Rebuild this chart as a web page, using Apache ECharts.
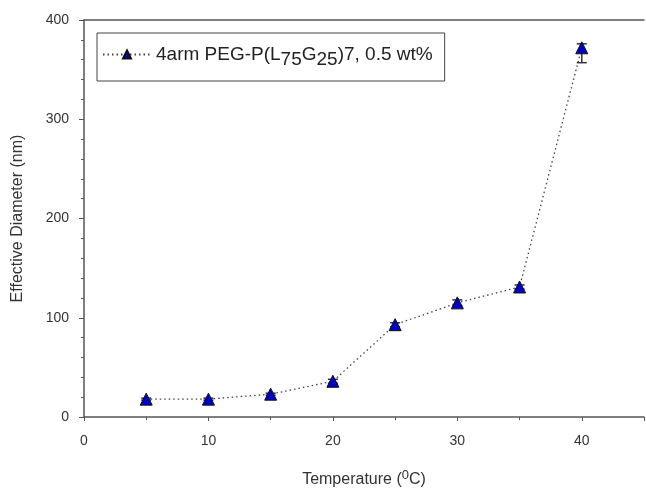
<!DOCTYPE html>
<html>
<head>
<meta charset="utf-8">
<title>Effective Diameter</title>
<script src="https://cdn.jsdelivr.net/npm/echarts@6/dist/echarts.min.js"></script>
<style>
  html, body { margin: 0; padding: 0; background: #fff; }
  #main { width: 646px; height: 488px; }
</style>
</head>
<body>
<div id="main"></div>
<script type="text/javascript">
    // temperature (C) and effective diameter (nm)
    var temps = [5, 10, 15, 20, 25, 30, 35, 40];
    var diameters = [18, 18, 23, 36, 93, 115, 131, 372];
    // error bar extents below / above the point (top ones hidden under the marker)
    var errDown = [1, 1, 1, 2, 2, 3, 2, 15];
    var errUp = [1, 1, 1, 2, 2, 3, 2, 4];
    var seriesName = '4arm PEG-P(L75G25)7, 0.5 wt%';

    var pointData = [], errData = [];
    for (var i = 0; i < temps.length; i++) {
        pointData.push([temps[i], diameters[i]]);
        errData.push([temps[i], diameters[i] - errDown[i], diameters[i] + errUp[i]]);
    }

    var font = 'Liberation Sans, Arial, sans-serif';
    var myChart = echarts.init(document.getElementById('main'));

    myChart.setOption({
        animation: false,
        textStyle: { fontFamily: font },
        grid: { left: 84, right: 2, top: 20, bottom: 71, containLabel: false, outerBoundsMode: 'none' },
        legend: {
            left: 97,
            top: 33,
            orient: 'horizontal',
            data: [seriesName],
            itemWidth: 48,
            itemHeight: 10,
            itemGap: 0,
            padding: [12, 12, 12, 5],
            borderColor: '#444',
            borderWidth: 1,
            formatter: function () {
                return '4arm PEG-P(L{sub|75}G{sub|25})7, 0.5 wt%';
            },
            textStyle: {
                fontSize: 19,
                color: '#222',
                fontFamily: font,
                rich: {
                    sub: { fontSize: 19, color: '#222', fontFamily: font, padding: [10, 0, 0, 0] }
                }
            }
        },
        xAxis: [{
            type: 'value',
            min: 0,
            max: 45,
            interval: 10,
            name: 'Temperature ({sup|0}C)',
            nameLocation: 'middle',
            nameGap: 52,
            nameTextStyle: {
                fontSize: 16,
                color: '#333',
                fontFamily: font,
                rich: { sup: { fontSize: 13, color: '#333', fontFamily: font, padding: [0, 0, 9, 0] } }
            },
            splitLine: { show: false },
            axisLine: { lineStyle: { color: '#555', width: 1.5 } },
            axisTick: { length: 4, lineStyle: { color: '#555' } },
            minorTick: { show: true, splitNumber: 2, length: 3, lineStyle: { color: '#555' } },
            axisLabel: { fontSize: 14, color: '#333', margin: 17, showMaxLabel: false }
        }, {
            type: 'value',
            position: 'top',
            min: 0,
            max: 45,
            axisLine: { show: true, lineStyle: { color: '#555', width: 1.5 } },
            axisTick: { show: false },
            axisLabel: { show: false },
            splitLine: { show: false }
        }],
        yAxis: {
            type: 'value',
            min: 0,
            max: 400,
            interval: 100,
            name: 'Effective Diameter (nm)',
            nameLocation: 'middle',
            nameGap: 58,
            nameTextStyle: { fontSize: 16, color: '#333', fontFamily: font },
            splitLine: { show: false },
            axisLine: { show: true, lineStyle: { color: '#555', width: 1.5 } },
            axisTick: { show: true, length: 5, lineStyle: { color: '#555' } },
            minorTick: { show: true, splitNumber: 5, length: 3, lineStyle: { color: '#555' } },
            axisLabel: { fontSize: 14, color: '#333', margin: 15 }
        },
        series: [{
            name: seriesName,
            type: 'line',
            data: pointData,
            symbol: 'triangle',
            symbolSize: 12,
            itemStyle: { color: '#0000c8', borderColor: '#111', borderWidth: 1 },
            lineStyle: { color: '#444', width: 1.3, type: [1.5, 3] },
            z: 3
        }, {
            type: 'custom',
            data: errData,
            z: 2,
            renderItem: function (params, api) {
                var x = api.value(0);
                var lo = api.coord([x, api.value(1)]);
                var hi = api.coord([x, api.value(2)]);
                var w = 5;
                var st = { stroke: '#333', lineWidth: 1.5 };
                return {
                    type: 'group',
                    children: [
                        { type: 'line', shape: { x1: lo[0], y1: lo[1], x2: hi[0], y2: hi[1] }, style: st },
                        { type: 'line', shape: { x1: lo[0] - w, y1: lo[1], x2: lo[0] + w, y2: lo[1] }, style: st },
                        { type: 'line', shape: { x1: hi[0] - w, y1: hi[1], x2: hi[0] + w, y2: hi[1] }, style: st }
                    ]
                };
            }
        }]
    });
</script>
</body>
</html>
